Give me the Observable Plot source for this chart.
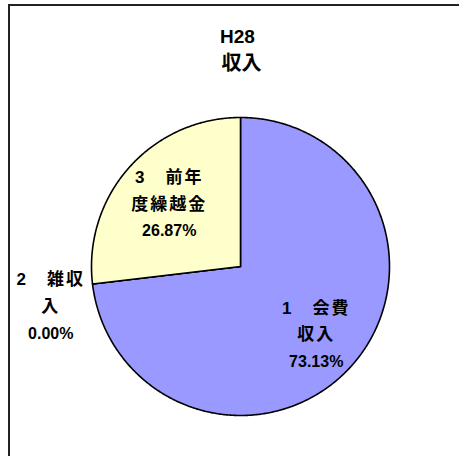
<!DOCTYPE html>
<html><head><meta charset="utf-8">
<script src="https://cdn.jsdelivr.net/npm/d3@7"></script>
<script src="https://cdn.jsdelivr.net/npm/@observablehq/plot@0.6"></script>
<style>
html,body{margin:0;padding:0;background:#fff;}
#wrap{position:absolute;left:0;top:0;width:459px;height:456px;}
#frame{position:absolute;left:8px;top:4px;width:460px;height:460px;border-left:2px solid #222;border-top:2px solid #222;}
</style>
</head><body>
<div id="wrap"><div id="frame"></div></div>
<script>
const titleLatin = "H28";
const titleCJK = "収入";
const categories = ["1　会費収入", "2　雑収入", "3　前年度繰越金"];
const values = [73.13, 0.00, 26.87];
const colors = ["#9999FF", "#FFFFFF", "#FFFFCC"];

const W = 459, H = 456;
const cx = 240, cy = 266, R = 149;

const total = d3.sum(values);
const pie = d3.pie().sort(null).value(d => d.value)(categories.map((c, i) => ({category: c, value: values[i], color: colors[i]})));

function slicePoints(s) {
  const pts = [{x: 0, y: 0}];
  const n = Math.max(2, Math.ceil((s.endAngle - s.startAngle) / (Math.PI / 360)));
  for (let k = 0; k <= n; k++) {
    const a = s.startAngle + (s.endAngle - s.startAngle) * k / n;
    pts.push({x: Math.sin(a), y: Math.cos(a)});
  }
  pts.push({x: 0, y: 0});
  return pts;
}

function wrap(str, n) {
  const chars = Array.from(str), out = [];
  for (let i = 0; i < chars.length; i += n) out.push(chars.slice(i, i + n).join(""));
  return out.join("\n");
}

const labels = pie.map(s => {
  const mid = (s.startAngle + s.endAngle) / 2;
  const frac = s.data.value / total;
  const r = frac < 0.02 ? 1.3 : (frac > 0.5 ? 0.68 : 0.64);
  const a = frac < 0.02 ? mid - 0.085 : mid;
  return {x: r * Math.sin(a), y: r * Math.cos(a),
    name: wrap(s.data.category, 4),
    pct: s.data.value.toFixed(2) + "%"};
});

const font = "'Liberation Sans', 'Noto Sans CJK JP', sans-serif";
const step = 26.5;

const marks = [];
pie.forEach(s => {
  marks.push(Plot.line(slicePoints(s), {x: "x", y: "y", fill: s.data.color, stroke: "#000", strokeWidth: 1.6, curve: "linear"}));
});
marks.push(Plot.text(labels, {x: "x", y: "y", text: "name", fontSize: 17, fontWeight: "bold", lineHeight: step / 17, dy: -step / 2 - 2, fill: "#000"}));
marks.push(Plot.text(labels, {x: "x", y: "y", text: "pct", fontSize: 16, fontWeight: "bold", dy: step + 1.5, fill: "#000"}));
marks.push(Plot.text([titleLatin], {x: () => 0, frameAnchor: "top", lineAnchor: "middle", dx: -3, dy: 36, fontSize: 19, fontWeight: "bold", fill: "#000"}));
marks.push(Plot.text([titleCJK], {x: () => 0, frameAnchor: "top", lineAnchor: "middle", dx: 1, dy: 63, fontSize: 20, fontWeight: "bold", fill: "#000"}));

const chart = Plot.plot({
  width: W, height: H,
  margin: 0,
  style: {fontFamily: font, background: "transparent", overflow: "visible"},
  x: {type: "linear", domain: [-cx / R, (W - cx) / R], range: [0, W], axis: null},
  y: {type: "linear", domain: [-(H - cy) / R, cy / R], range: [H, 0], axis: null},
  marks
});
chart.style.position = "absolute";
chart.style.left = "0";
chart.style.top = "0";
d3.select(chart).selectAll("g[font-size='17'] text, g[font-size='17'] tspan").attr("letter-spacing", "2px");
document.getElementById("wrap").appendChild(chart);
</script>
</body></html>
